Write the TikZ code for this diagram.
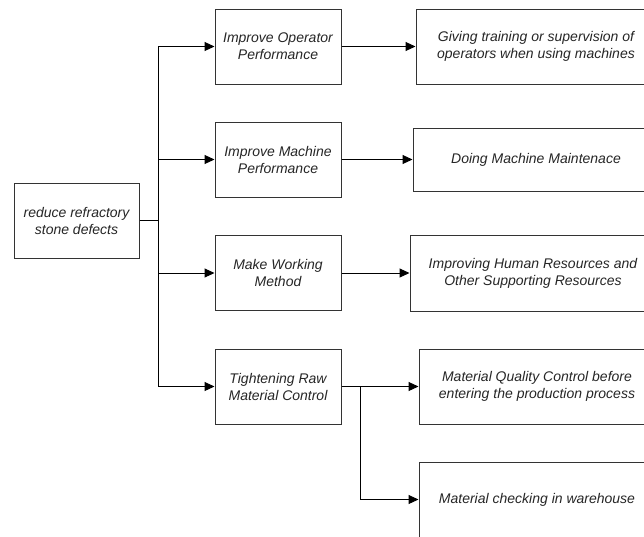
\documentclass[tikz,border=0pt]{standalone}
\usepackage{fontspec}
\setmainfont{Liberation Sans}
\usetikzlibrary{arrows.meta}
\begin{document}
\begin{tikzpicture}[x=1pt,y=-1pt,
  box/.style={draw=black!80, line width=1pt, rectangle, align=center, inner sep=0pt,
    font=\fontsize{14}{17}\selectfont\itshape, text=black!85},
  conn/.style={draw=black, line width=1pt},
  arr/.style={conn, -{Triangle[length=10pt,width=9pt]}}]
\useasboundingbox (0,0) rectangle (644,536);
\clip (0,0) rectangle (644,536);
\fill[white] (0,0) rectangle (644,536);
% left
\node[box, minimum width=125pt, minimum height=75pt] (root) at (76.5,220.5) {reduce refractory\\stone defects};
% middle
\node[box, minimum width=126pt, minimum height=75pt] (m1) at (278,46.5) {Improve Operator\\Performance};
\node[box, minimum width=126pt, minimum height=75pt] (m2) at (278,159.5) {Improve Machine\\Performance};
\node[box, minimum width=126pt, minimum height=75pt] (m3) at (278,273) {Make Working\\Method};
\node[box, minimum width=126pt, minimum height=75pt] (m4) at (278,386.5) {Tightening Raw\\Material Control};
% right
\node[box, minimum width=240pt, minimum height=75pt] (r1) at (536,46.5) {Giving training or supervision of\\operators when using machines};
\node[box, minimum width=246pt, minimum height=63pt] (r2) at (536,159.5) {Doing Machine Maintenace};
\node[box, minimum width=246pt, minimum height=76pt] (r3) at (533,273) {Improving Human Resources and\\Other Supporting Resources};
\node[box, minimum width=236pt, minimum height=75pt] (r4) at (537,386.5) {Material Quality Control before\\entering the production process};
\node[box, minimum width=236pt, minimum height=75pt] (r5) at (537,499.5) {Material checking in warehouse};
% connectors
\coordinate (j) at (158,220.5);
\coordinate (k) at (360,386.5);
\draw[conn] (root.east) -- (j);
\draw[arr] (j) |- (m1.west);
\draw[arr] (j) |- (m2.west);
\draw[arr] (j) |- (m3.west);
\draw[arr] (j) |- (m4.west);
\draw[arr] (m1.east) -- (r1.west);
\draw[arr] (m2.east) -- (r2.west);
\draw[arr] (m3.east) -- (r3.west);
\draw[arr] (m4.east) -- (r4.west);
\draw[arr] (k) |- (r5.west);
\end{tikzpicture}
\end{document}
